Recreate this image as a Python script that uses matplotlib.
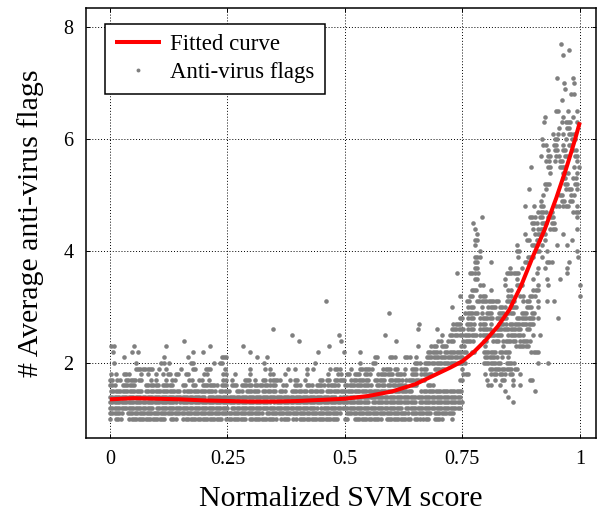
import numpy as np
import matplotlib
matplotlib.use('Agg')
import matplotlib.pyplot as plt

plt.rcParams['font.family'] = ['Liberation Serif', 'DejaVu Serif']

# Anti-virus flag averages.
# Each row: (y level, [x or (x_start, x_end) runs of adjacent score bins])
low_rows = [
    (1.0, [0.0, (0.013, 0.024), (0.041, 0.119), (0.13, 0.144), 0.155, (0.162, 0.241), (0.248, 0.291),
           (0.298, 0.355), (0.365, 0.383), (0.39, 0.397), (0.404, 0.426), (0.429, 0.486), (0.5, 0.507),
           (0.521, 0.578), (0.589, 0.642), (0.649, 0.663), (0.667, 0.681), (0.691, 0.706), (0.727, 0.73)]),
    (1.1, [(0.0, 0.027), (0.038, 0.326), (0.334, 0.493), (0.504, 0.635), (0.642, 0.684), (0.691, 0.734)]),
    (1.2, [(0.0, 0.09), (0.1, 0.25), (0.26, 0.44), (0.45, 0.62), (0.63, 0.745)]),
    (1.3, [(0.0, 0.14), (0.15, 0.34), (0.35, 0.55), (0.56, 0.65), (0.66, 0.745), 0.749, 0.858]),
    (1.4, [(0.0, 0.2), (0.21, 0.48), (0.49, 0.745), 0.848]),
    (1.5, [(0.002, 0.07), (0.077, 0.15), (0.158, 0.227), (0.234, 0.255), (0.27, 0.284), (0.291, 0.319),
           (0.326, 0.355), (0.362, 0.376), (0.387, 0.419), (0.426, 0.454), (0.461, 0.642), (0.663, 0.749),
           0.841, 0.905]),
    (1.6, [(0.0, 0.013), (0.027, 0.055), (0.077, 0.105), (0.112, 0.133), (0.155, 0.162), (0.176, 0.183),
           (0.197, 0.227), (0.238, 0.252), (0.259, 0.27), (0.28, 0.302), (0.309, 0.337), (0.341, 0.355),
           (0.369, 0.376), (0.394, 0.408), (0.419, 0.433), (0.44, 0.458), (0.465, 0.486), (0.5, 0.557),
           (0.568, 0.585), (0.592, 0.628), (0.642, 0.656), (0.677, 0.691), (0.805, 0.812), 0.83, 0.858, 0.873]),
    (1.7, [(0.0, 0.009), (0.016, 0.023), (0.034, 0.055), (0.062, 0.07), (0.087, 0.091), (0.098, 0.101), 0.119,
           (0.133, 0.14), (0.169, 0.176), (0.19, 0.197), 0.211, (0.241, 0.248), (0.259, 0.263), (0.287, 0.298),
           (0.309, 0.312), (0.326, 0.334), (0.341, 0.365), 0.383, (0.394, 0.401), (0.415, 0.419),
           (0.447, 0.454), (0.461, 0.468), (0.479, 0.5), (0.514, 0.55), (0.564, 0.585), (0.596, 0.621),
           (0.631, 0.656), (0.663, 0.67), (0.745, 0.752), 0.802, 0.819, (0.834, 0.841), 0.858, (0.894, 0.901)]),
    (1.8, [0.002, 0.013, (0.03, 0.041), (0.066, 0.07), (0.08, 0.084), (0.098, 0.101), (0.112, 0.116),
           (0.123, 0.13), (0.14, 0.148), (0.162, 0.169), (0.201, 0.208), (0.241, 0.248), (0.266, 0.27), 0.298,
           (0.341, 0.348), (0.373, 0.376), 0.419, 0.465, (0.486, 0.493), (0.504, 0.511), (0.521, 0.532),
           (0.543, 0.557), (0.571, 0.603), (0.61, 0.628), (0.642, 0.652), (0.663, 0.684), (0.752, 0.766),
           (0.798, 0.802), (0.812, 0.823), (0.83, 0.844), (0.851, 0.858), 0.873]),
    (1.9, [(0.055, 0.091), 0.105, (0.119, 0.123), 0.151, (0.176, 0.183), (0.204, 0.215), 0.245, 0.298, 0.33,
           0.341, 0.38, 0.394, 0.419, 0.433, 0.468, (0.479, 0.493), 0.514, (0.532, 0.557), (0.582, 0.6),
           (0.606, 0.614), (0.628, 0.631), (0.642, 0.656), (0.663, 0.677), (0.691, 0.713), 0.749,
           (0.809, 0.855), (0.862, 0.869)]),
]

mid_rows = [
    (2.0, [0.009, 0.055, (0.109, 0.116), 0.126, (0.172, 0.179), 0.222, (0.234, 0.241), 0.327, 0.436, 0.532,
           (0.56, 0.568), (0.649, 0.663), (0.67, 0.759), (0.795, 0.834), (0.844, 0.862), 0.912, 0.933]),
    (2.1, [0.03, 0.116, 0.166, (0.238, 0.248), 0.312, 0.334, (0.564, 0.571), (0.596, 0.61), (0.628, 0.638),
           (0.652, 0.656), (0.674, 0.752), (0.798, 0.823), (0.834, 0.837), (0.848, 0.851)]),
    (2.2, [0.006, 0.048, 0.059, 0.176, 0.199, 0.298, 0.443, 0.498, 0.532, (0.677, 0.706), (0.713, 0.759),
           (0.77, 0.777), (0.795, 0.823), (0.83, 0.851), (0.897, 0.912)]),
    (2.3, [0.002, 0.009, 0.052, 0.119, 0.212, 0.284, 0.466, 0.655, (0.684, 0.698), (0.706, 0.72),
           (0.748, 0.756), (0.798, 0.802), 0.837, (0.865, 0.894)]),
    (2.4, [0.158, 0.402, 0.492, 0.609, (0.699, 0.706), (0.72, 0.734), (0.752, 0.773), (0.795, 0.802),
           (0.816, 0.83), (0.837, 0.865), (0.873, 0.894)]),
    (2.5, [0.387, 0.487, 0.585, 0.706, (0.724, 0.741), (0.745, 0.78), (0.788, 0.837), (0.848, 0.88), 0.901,
           0.915]),
    (2.6, [0.347, 0.656, 0.695, (0.727, 0.756), (0.763, 0.777), (0.788, 0.809), (0.823, 0.873), (0.887, 0.894)]),
    (2.7, [0.658, (0.731, 0.749), (0.759, 0.777), (0.788, 0.802), 0.812, (0.827, 0.844), (0.851, 0.901)]),
    (2.8, [(0.745, 0.752), (0.763, 0.777), (0.788, 0.816), (0.823, 0.844), (0.866, 0.905), (0.912, 0.915), 0.954]),
    (2.9, [0.594, (0.756, 0.784), 0.791, (0.802, 0.816), (0.827, 0.837), (0.848, 0.862), (0.876, 0.887),
           (0.898, 0.905)]),
]

high_rows = [
    (3.0, [0.727, (0.763, 0.773), 0.791, (0.805, 0.82), (0.83, 0.844), (0.855, 0.866), (0.887, 0.901), 0.912]),
    (3.1, [0.46, (0.759, 0.766), (0.781, 0.83), (0.844, 0.859), 0.88, (0.887, 0.894), 0.912, 0.93, 0.944]),
    (3.2, [0.745, (0.766, 0.773), (0.788, 0.802), (0.848, 0.855), (0.873, 0.88), (0.894, 0.908), 1.0]),
    (3.3, [(0.77, 0.784), 0.812, (0.848, 0.855), (0.901, 0.912)]),
    (3.4, [(0.788, 0.795), (0.841, 0.844), (0.866, 0.88), 0.912, 0.933, 1.0]),
    (3.5, [(0.777, 0.784), 0.841, (0.866, 0.869), 0.901, 0.93, (0.958, 0.961)]),
    (3.6, [0.738, (0.766, 0.777), 0.784, (0.844, 0.873), 0.908, 0.972]),
    (3.7, [(0.777, 0.784), 0.851, 0.876, 0.912, (0.926, 0.93), 0.972]),
    (3.8, [(0.777, 0.784), 0.812, (0.883, 0.89), (0.93, 0.94), 0.976]),
    (3.9, [(0.777, 0.788), 0.869, (0.89, 0.901), 0.919, 0.997]),
    (4.0, [0.788, (0.866, 0.873), (0.908, 0.915), (0.93, 0.933), 0.993]),
    (4.1, [0.777, 0.866, (0.898, 0.908), 0.919, (0.951, 0.954), 0.972]),
    (4.2, [(0.777, 0.784), (0.887, 0.894), (0.908, 0.915), (0.926, 0.93), 0.983]),
    (4.3, [0.781, 0.883, (0.905, 0.926), 0.965]),
    (4.4, [(0.777, 0.781), (0.901, 0.905), (0.912, 0.922), (0.937, 0.947), 0.993]),
    (4.5, [0.773, (0.898, 0.908), (0.919, 0.93), (0.94, 0.947)]),
    (4.6, [0.791, (0.894, 0.905), (0.915, 0.922), (0.933, 0.944), 0.993]),
    (4.7, [(0.912, 0.93), (0.94, 0.944), (0.986, 0.997)]),
    (4.8, [0.884, 0.902, (0.917, 0.926), (0.95, 0.957), (0.965, 0.979), 0.993]),
    (4.9, [0.918, (0.961, 0.968), (0.979, 0.986)]),
    (5.0, [0.922, (0.957, 0.964), (0.982, 0.989)]),
    (5.1, [0.892, 0.929, (0.971, 0.982), 0.993]),
    (5.2, [(0.925, 0.936), (0.968, 0.975), (0.989, 0.996)]),
    (5.3, [(0.964, 0.971), (0.986, 0.993)]),
    (5.4, [(0.936, 0.939), (0.964, 0.975), (0.993, 0.996)]),
    (5.5, [0.896, (0.932, 0.939), (0.957, 0.971), 0.987, 0.998]),
    (5.6, [(0.929, 0.936), (0.947, 0.95), (0.957, 0.964), 0.993]),
    (5.7, [0.918, (0.932, 0.939), (0.95, 0.957), (0.968, 0.973), (0.989, 0.996)]),
    (5.8, [(0.932, 0.936), (0.947, 0.954), (0.964, 0.971), (0.986, 0.993)]),
    (5.9, [(0.922, 0.929), (0.944, 0.949), 0.964, (0.977, 0.982)]),
    (6.0, [0.92, (0.947, 0.954), 0.97, (0.984, 0.989)]),
    (6.1, [(0.942, 0.944), 0.954, 0.964, (0.977, 0.989)]),
    (6.2, [0.956, (0.973, 0.979)]),
    (6.3, [0.924, 0.961, (0.97, 0.982), 0.993]),
    (6.4, [0.925, (0.964, 0.968), 0.986]),
    (6.5, [(0.949, 0.957), 0.974, 0.993]),
    (6.7, [0.963]),
    (6.8, [(0.982, 0.989)]),
    (6.9, [0.969]),
    (7.0, [0.966, 0.987]),
    (7.1, [0.952, 0.986]),
    (7.5, [0.964]),
    (7.6, [0.977]),
    (7.7, [0.959]),
]

# fitted curve
curve_x = [0.0, 0.05, 0.1, 0.15, 0.2, 0.25, 0.3, 0.35, 0.4, 0.45, 0.5, 0.55, 0.6, 0.65, 0.7, 0.725,
           0.75, 0.775, 0.8, 0.825, 0.85, 0.875, 0.9, 0.925, 0.95, 0.96, 0.97, 0.98, 0.99, 1.0]
curve_y = [1.35, 1.37, 1.36, 1.35, 1.33, 1.32, 1.31, 1.31, 1.32, 1.34, 1.36, 1.41, 1.49, 1.62, 1.82, 1.92,
           2.03, 2.2, 2.41, 2.65, 2.95, 3.38, 3.9, 4.38, 4.95, 5.2, 5.45, 5.72, 6.0, 6.3]

x_ticks = [0, 0.25, 0.5, 0.75, 1]
x_tick_labels = ['0', '0.25', '0.5', '0.75', '1']
y_ticks = [2, 4, 6, 8]

BIN = 0.005  # width of one score bin (adjacent dots in a run)


def expand(rows):
    xs, ys = [], []
    for level, runs in rows:
        for r in runs:
            if isinstance(r, tuple):
                pts = np.arange(r[0], r[1] + 1e-9, BIN)
            else:
                pts = np.array([r])
            xs.extend(pts)
            ys.extend([level] * len(pts))
    return np.array(xs), np.array(ys)


px, py = expand(low_rows + mid_rows + high_rows)

fig = plt.figure(figsize=(5.97, 5.11), dpi=100)
ax = fig.add_axes([0.144, 0.143, 0.854, 0.841])

ax.plot(px, py, 'o', color='#7f7f7f', ms=3.3, mew=0, label='Anti-virus flags', zorder=2)
ax.plot(curve_x, curve_y, '-', color='red', lw=2.9, label='Fitted curve', zorder=3,
        solid_capstyle='butt')

ax.set_xlim(-0.051, 1.034)
ax.set_ylim(0.66, 8.34)
ax.set_xticks(x_ticks)
ax.set_xticklabels(x_tick_labels)
ax.set_yticks(y_ticks)
ax.grid(True, color='black', linestyle=(0, (1, 2)), linewidth=0.7)
ax.set_axisbelow(True)
ax.tick_params(direction='in', length=3, width=0.7, top=True, right=True, labelsize=14.5, pad=9)
for s in ax.spines.values():
    s.set_linewidth(1.1)

ax.set_xlabel('Normalized SVM score', fontsize=21.5, labelpad=12)
ax.set_ylabel('# Average anti-virus flags', fontsize=21.5, labelpad=14)

h, l = ax.get_legend_handles_labels()
leg = ax.legend(h[::-1], l[::-1], loc='upper left', bbox_to_anchor=(0.014, 0.99), fontsize=16.5,
                numpoints=1, fancybox=False, framealpha=1, edgecolor='black', handlelength=2.0,
                handletextpad=0.4, labelspacing=0.3, borderpad=0.45, markerscale=0.85)
leg.get_frame().set_linewidth(1.1)

fig.savefig('out.png', dpi=100)
